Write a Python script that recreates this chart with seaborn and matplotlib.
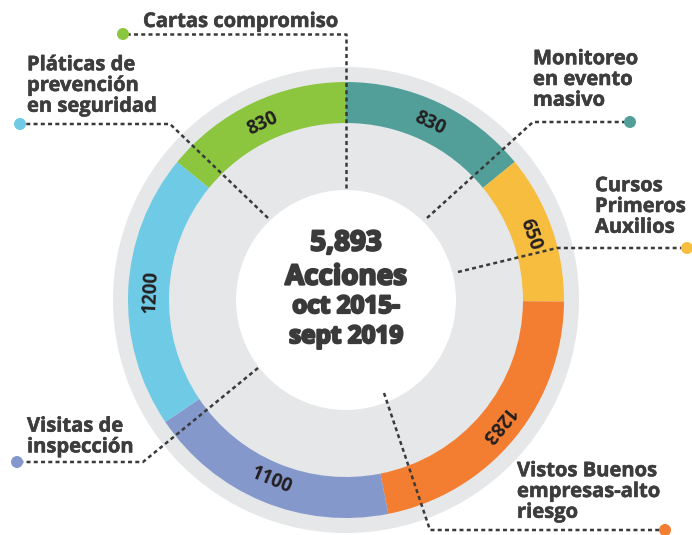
import numpy as np
import matplotlib.pyplot as plt
import matplotlib.patheffects as pe
import seaborn as sns
from matplotlib.patches import Circle

# data (clockwise from 12 o'clock)
categories = ["Monitoreo en evento masivo", "Cursos Primeros Auxilios",
              "Vistos Buenos empresas-alto riesgo", "Visitas de inspección",
              "Pláticas de prevención en seguridad", "Cartas compromiso"]
values = [830, 650, 1283, 1100, 1200, 830]
value_labels = ["830", "650", "1283", "1100", "1200", "830"]
colors = ["#529f99", "#f7bd3e", "#f37d30", "#8598cc", "#6ecae5", "#8cc63f"]
center_lines = ["5,893", "Acciones", "oct 2015-", "sept 2019"]

# callout text, dot colour and leader path (pixel coords, y down)
callouts = [
    ("Cartas compromiso", "#8cc63f", [(346, 188), (346, 34), (123, 34)], (143, 22)),
    ("Pláticas de\nprevención\nen seguridad", "#6ecae5", [(268, 218), (170, 124), (20, 124)], (27, 86)),
    ("Monitoreo\nen evento\nmasivo", "#529f99", [(427, 218), (533, 122), (630, 122)], (533, 80)),
    ("Cursos\nPrimeros\nAuxilios", "#f7bd3e", [(458, 272), (557, 248), (687, 248)], (595, 207)),
    ("Vistos Buenos\nempresas-alto\nriesgo", "#f37d30", [(384, 393), (430, 530), (665, 530)], (517, 492)),
    ("Visitas de\ninspección", "#8598cc", [(258, 368), (143, 462), (17, 462)], (27, 437)),
]

W, H = 692, 535
cx, cy = 346, H - 300
r_out, r_in, r_hole, r_bg = 218, 177, 110, 233

sns.set_theme(style="white")
plt.rcParams["font.family"] = ["Open Sans", "DejaVu Sans"]

fig = plt.figure(figsize=(W / 100, H / 100), dpi=100)
ax = fig.add_axes([0, 0, 1, 1])

ax.add_patch(Circle((cx, cy), r_bg, color="#e6e7e8", zorder=0, lw=0))
wedges, _ = ax.pie(values, colors=colors, startangle=90, counterclock=False,
                   radius=r_out, center=(cx, cy),
                   wedgeprops=dict(width=r_out - r_in, linewidth=0))
ax.add_patch(Circle((cx, cy), r_hole, color="white", zorder=3, lw=0))

# value labels along the ring
total = sum(values)
start = 90.0
for v, lab in zip(values, value_labels):
    span = v / total * 360
    mid = start - span / 2
    start -= span
    mid = (mid + 180) % 360 - 180
    r_mid = (r_out + r_in) / 2 - 2
    x = cx + r_mid * np.cos(np.radians(mid))
    y = cy + r_mid * np.sin(np.radians(mid))
    rot = mid - 90
    if rot < -135:
        rot += 180
    ax.text(x, y, lab, rotation=rot, rotation_mode="anchor", ha="center", va="center",
            fontsize=13.5, fontweight="bold", color="#231f20", zorder=5)

# leader lines, dots and callout text
for text, col, path, tpos in callouts:
    xs = [p[0] for p in path]
    ys = [H - p[1] for p in path]
    ax.plot(xs, ys, color="#3a3a3a", lw=1.8, linestyle=(0, (1.6, 1.3)),
            solid_capstyle="butt", zorder=4)
    ax.add_patch(Circle((xs[-1], ys[-1]), 6, color=col, zorder=6, lw=0))
    ax.text(tpos[0], H - tpos[1], text, ha="left", va="center", fontsize=14.5,
            fontweight="bold", color="#3d3d3d", linespacing=1.05, zorder=6,
            path_effects=[pe.withStroke(linewidth=0.4, foreground="#3d3d3d")])

# centre text
center_y = [243, 277, 307, 337]
center_size = [20, 20, 17.5, 17.5]
for line, yy, fs in zip(center_lines, center_y, center_size):
    ax.text(cx, H - yy, line, ha="center", va="center", fontsize=fs,
            fontweight="bold", color="#3a3a3a", zorder=6,
            path_effects=[pe.withStroke(linewidth=1.6, foreground="#3a3a3a")])

ax.set_xlim(0, W)
ax.set_ylim(0, H)
ax.set_aspect("equal")
ax.axis("off")

fig.savefig("out.png", dpi=100, facecolor="white")
